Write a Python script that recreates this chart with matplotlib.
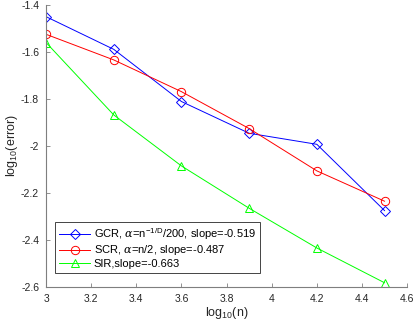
import matplotlib
matplotlib.use("Agg")
import matplotlib.pyplot as plt

x_vals = [3.0, 3.3, 3.6, 3.9, 4.2, 4.5]
gcr = [-1.450, -1.589, -1.811, -1.946, -1.993, -2.275]
scr = [-1.525, -1.634, -1.769, -1.926, -2.106, -2.235]
sir = [-1.560, -1.868, -2.085, -2.265, -2.434, -2.582]
labels = [r"GCR, $\alpha$=n$^{\mathrm{-1/D}}$/200, slope=-0.519",
          r"SCR, $\alpha$=n/2, slope=-0.487",
          r"SIR,slope=-0.663"]
xticks = [3, 3.2, 3.4, 3.6, 3.8, 4, 4.2, 4.4, 4.6]
yticks = [-1.4, -1.6, -1.8, -2.0, -2.2, -2.4, -2.6]

plt.rcParams['font.family'] = ['Liberation Sans', 'DejaVu Sans']
plt.rcParams['mathtext.fontset'] = 'custom'
plt.rcParams['mathtext.rm'] = 'Liberation Sans'
plt.rcParams['mathtext.it'] = 'DejaVu Serif:italic'

fig = plt.figure(figsize=(4.15, 3.28), dpi=100)
ax = fig.add_axes([0.111, 0.125, 0.870, 0.860])

ax.plot(x_vals, gcr, color=(0, 0, 1), marker='D', markersize=5, markerfacecolor='none',
        markeredgewidth=0.7, linewidth=0.7, label=labels[0])
ax.plot(x_vals, scr, color=(1, 0, 0), marker='o', markersize=6, markerfacecolor='none',
        markeredgewidth=0.7, linewidth=0.7, label=labels[1])
ax.plot(x_vals, sir, color=(0, 1, 0), marker='^', markersize=6, markerfacecolor='none',
        markeredgewidth=0.7, linewidth=0.7, label=labels[2])

ax.set_xlim(3, 4.6)
ax.set_ylim(-2.6, -1.4)
ax.set_xticks(xticks)
ax.set_xticklabels([f"{t:g}" for t in xticks])
ax.set_yticks(yticks)
ax.set_yticklabels([f"{t:g}" for t in yticks])
for s in ['top', 'right']:
    ax.spines[s].set_visible(False)
for s in ['left', 'bottom']:
    ax.spines[s].set_color('#7f7f7f')
    ax.spines[s].set_linewidth(0.8)
ax.tick_params(direction='in', length=3, width=0.6, colors='#7f7f7f',
               labelcolor='#262626', labelsize=7.5, pad=5)

ax.set_xlabel(r"log$_{10}$(n)", fontsize=9, color='#262626', labelpad=1)
ax.set_ylabel(r"log$_{10}$(error)", fontsize=9, color='#262626', labelpad=1)

leg = ax.legend(loc='lower left', bbox_to_anchor=(0.01, 0.03), fontsize=8,
                frameon=True, fancybox=False, edgecolor='#262626', framealpha=1,
                handlelength=2.8, handletextpad=0.3, borderpad=0.35, labelspacing=0.15)
leg.get_frame().set_linewidth(0.6)

fig.savefig("out.png", dpi=100)
